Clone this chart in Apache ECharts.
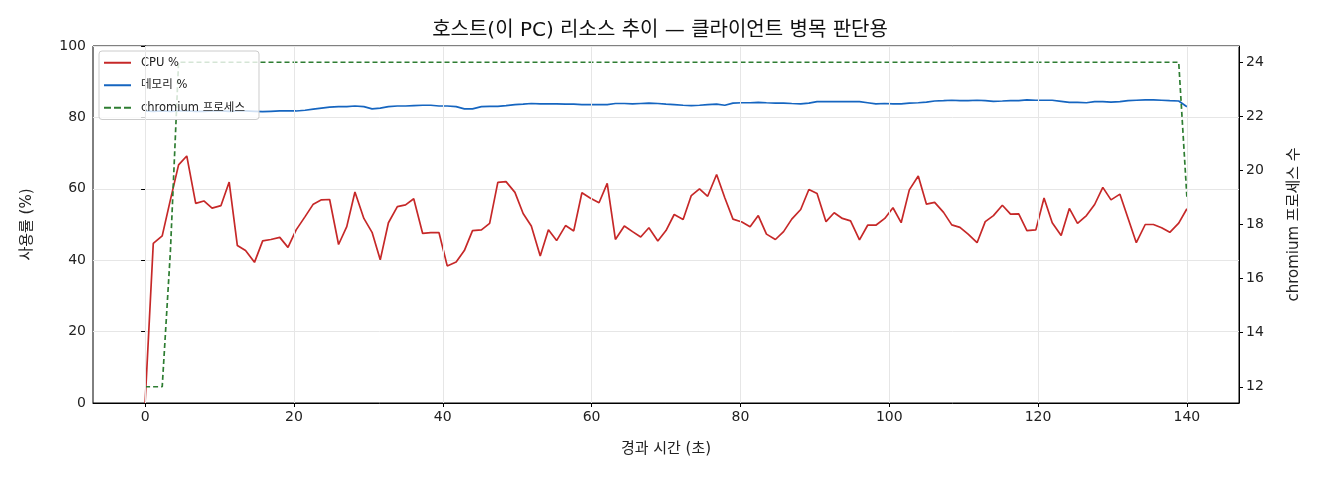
<!DOCTYPE html>
<html>
<head>
<meta charset="utf-8">
<script src="https://cdn.jsdelivr.net/npm/echarts@6/dist/echarts.min.js"></script>
<style>
  html, body { margin: 0; padding: 0; background: #fff; }
  #chart { width: 1320px; height: 480px; }
</style>
</head>
<body>
<div id="chart"></div>
<script>
// 경과 시간 (초)
const elapsed = [
  0.0, 1.1, 2.3, 3.4, 4.5, 5.6, 6.8, 7.9, 9.0, 10.2,
  11.3, 12.4, 13.5, 14.7, 15.8, 16.9, 18.1, 19.2, 20.3, 21.5,
  22.6, 23.7, 24.8, 26.0, 27.1, 28.2, 29.4, 30.5, 31.6, 32.7,
  33.9, 35.0, 36.1, 37.3, 38.4, 39.5, 40.6, 41.8, 42.9, 44.0,
  45.2, 46.3, 47.4, 48.5, 49.7, 50.8, 51.9, 53.1, 54.2, 55.3,
  56.5, 57.6, 58.7, 59.8, 61.0, 62.1, 63.2, 64.4, 65.5, 66.6,
  67.7, 68.9, 70.0, 71.1, 72.3, 73.4, 74.5, 75.6, 76.8, 77.9,
  79.0, 80.2, 81.3, 82.4, 83.5, 84.7, 85.8, 86.9, 88.1, 89.2,
  90.3, 91.5, 92.6, 93.7, 94.8, 96.0, 97.1, 98.2, 99.4, 100.5,
  101.6, 102.7, 103.9, 105.0, 106.1, 107.3, 108.4, 109.5, 110.6, 111.8,
  112.9, 114.0, 115.2, 116.3, 117.4, 118.5, 119.7, 120.8, 121.9, 123.1,
  124.2, 125.3, 126.5, 127.6, 128.7, 129.8, 131.0, 132.1, 133.2, 134.4,
  135.5, 136.6, 137.7, 138.9, 140.0
];

const cpuPct = [
  0, 44.7, 46.8, 56.9, 66.7, 69.2, 55.9, 56.6, 54.6, 55.3,
  61.9, 44.1, 42.7, 39.4, 45.4, 45.8, 46.4, 43.6, 48.5, 52.2,
  55.7, 56.9, 57.0, 44.4, 49.4, 59.1, 51.7, 47.8, 40.1, 50.5,
  55.0, 55.5, 57.2, 47.5, 47.7, 47.7, 38.4, 39.5, 42.7, 48.3,
  48.5, 50.3, 61.8, 62.0, 59.0, 53.1, 49.6, 41.2, 48.5, 45.5,
  49.7, 48.2, 58.9, 57.4, 56.1, 61.5, 45.8, 49.6, 48.0, 46.5,
  49.1, 45.4, 48.3, 52.8, 51.4, 58.1, 60.0, 57.9, 64.0, 57.5,
  51.5, 50.7, 49.4, 52.5, 47.3, 45.8, 48.0, 51.5, 54.2, 59.8,
  58.7, 50.8, 53.3, 51.7, 51.0, 45.7, 49.8, 49.8, 51.7, 54.7,
  50.5, 59.7, 63.6, 55.7, 56.2, 53.4, 49.9, 49.2, 47.3, 44.9,
  50.8, 52.5, 55.4, 52.9, 53.0, 48.3, 48.5, 57.4, 50.5, 46.9,
  54.5, 50.3, 52.5, 55.6, 60.4, 56.9, 58.5, 51.7, 44.9, 50.0,
  50.0, 49.1, 47.8, 50.4, 54.4
];

const memPct = [
  81.8, 81.7, 81.8, 81.7, 81.8, 81.8, 81.7, 81.7, 81.8, 81.8,
  81.7, 81.8, 81.8, 81.7, 81.6, 81.7, 81.8, 81.8, 81.8, 82.0,
  82.3, 82.6, 82.9, 83.0, 83.0, 83.2, 83.0, 82.4, 82.6, 83.0,
  83.2, 83.2, 83.3, 83.4, 83.4, 83.2, 83.2, 83.0, 82.4, 82.4,
  83.0, 83.1, 83.1, 83.3, 83.6, 83.7, 83.9, 83.8, 83.8, 83.8,
  83.7, 83.7, 83.6, 83.6, 83.6, 83.6, 83.9, 83.9, 83.8, 83.9,
  84.0, 83.9, 83.7, 83.6, 83.4, 83.3, 83.4, 83.6, 83.7, 83.4,
  84.0, 84.1, 84.1, 84.2, 84.1, 84.0, 84.0, 83.9, 83.8, 84.0,
  84.4, 84.4, 84.4, 84.4, 84.4, 84.4, 84.1, 83.8, 83.9, 83.8,
  83.8, 84.0, 84.1, 84.3, 84.6, 84.7, 84.8, 84.7, 84.7, 84.8,
  84.7, 84.5, 84.6, 84.7, 84.7, 84.9, 84.8, 84.8, 84.8, 84.5,
  84.2, 84.2, 84.1, 84.4, 84.4, 84.3, 84.4, 84.7, 84.8, 84.9,
  84.9, 84.8, 84.7, 84.6, 83.0
];

const chromiumProcs = [
  12, 12, 12, 17, 24, 24, 24, 24, 24, 24,
  24, 24, 24, 24, 24, 24, 24, 24, 24, 24,
  24, 24, 24, 24, 24, 24, 24, 24, 24, 24,
  24, 24, 24, 24, 24, 24, 24, 24, 24, 24,
  24, 24, 24, 24, 24, 24, 24, 24, 24, 24,
  24, 24, 24, 24, 24, 24, 24, 24, 24, 24,
  24, 24, 24, 24, 24, 24, 24, 24, 24, 24,
  24, 24, 24, 24, 24, 24, 24, 24, 24, 24,
  24, 24, 24, 24, 24, 24, 24, 24, 24, 24,
  24, 24, 24, 24, 24, 24, 24, 24, 24, 24,
  24, 24, 24, 24, 24, 24, 24, 24, 24, 24,
  24, 24, 24, 24, 24, 24, 24, 24, 24, 24,
  24, 24, 24, 24, 19
];

const xTicks = [0, 20, 40, 60, 80, 100, 120, 140];
const procTicks = [12, 14, 16, 18, 20, 22, 24];

const FONT = '"DejaVu Sans", "Noto Sans CJK KR", sans-serif';
const TICK_TEXT = { color: '#222', fontSize: 14, fontFamily: FONT };
const NAME_TEXT = { color: '#222', fontSize: 15, fontFamily: FONT };

// 범례 아이콘 (선 / 점선)
const ICON_SOLID = 'path://M0,0h27v2h-27z';
const ICON_DASH = 'path://M0,0h7v2h-7zM10,0h7v2h-7zM20,0h7v2h-7z';

function pairs(ys) {
  return ys.map((v, i) => [elapsed[i], v]);
}

const chart = echarts.init(document.getElementById('chart'));

const option = {
  animation: false,
  backgroundColor: '#fff',
  textStyle: { fontFamily: FONT },
  title: {
    text: '호스트(이 PC) 리소스 추이 — 클라이언트 병목 판단용',
    left: 'center',
    top: 16,
    textStyle: { fontSize: 20, fontWeight: 'normal', color: '#111', fontFamily: FONT }
  },
  legend: {
    orient: 'vertical',
    left: 99,
    top: 51,
    itemWidth: 27,
    itemHeight: 12,
    itemGap: 11,
    padding: [6, 14, 6, 5],
    backgroundColor: 'rgba(255,255,255,0.8)',
    borderColor: '#cccccc',
    borderWidth: 1,
    borderRadius: 3,
    textStyle: { fontSize: 11.5, color: '#222', fontFamily: FONT, padding: [0, 0, 0, 5] },
    data: [
      { name: 'CPU %', icon: ICON_SOLID },
      { name: '메모리 %', icon: ICON_SOLID },
      { name: 'chromium 프로세스', icon: ICON_DASH }
    ]
  },
  grid: {
    left: 93,
    right: 81,
    top: 46,
    bottom: 77,
    show: true,
    borderColor: '#000',
    borderWidth: 1,
    backgroundColor: 'transparent'
  },
  xAxis: {
    type: 'value',
    min: -7,
    max: 147,
    name: '경과 시간 (초)',
    nameLocation: 'middle',
    nameGap: 39,
    nameTextStyle: NAME_TEXT,
    axisLine: { show: true, onZero: false, lineStyle: { color: '#000', width: 1 } },
    axisTick: { show: true, length: 4, customValues: xTicks, lineStyle: { color: '#000' } },
    axisLabel: { customValues: xTicks, margin: 7, ...TICK_TEXT },
    splitLine: { show: false }
  },
  yAxis: [
    {
      type: 'value',
      min: 0,
      max: 100,
      interval: 20,
      name: '사용률 (%)',
      nameLocation: 'middle',
      nameGap: 58,
      nameTextStyle: NAME_TEXT,
      axisLine: { show: true, lineStyle: { color: '#000', width: 1 } },
      axisTick: { show: true, length: 4, lineStyle: { color: '#000' } },
      axisLabel: { margin: 7, ...TICK_TEXT },
      splitLine: { show: true, lineStyle: { color: '#e6e6e6', width: 1 } }
    },
    {
      type: 'value',
      min: 11.4,
      max: 24.6,
      position: 'right',
      name: 'chromium 프로세스 수',
      nameLocation: 'middle',
      nameGap: 48,
      nameRotate: 90,
      nameTextStyle: NAME_TEXT,
      axisLine: { show: true, lineStyle: { color: '#000', width: 1 } },
      axisTick: { show: true, length: 4, customValues: procTicks, lineStyle: { color: '#000' } },
      axisLabel: { customValues: procTicks, margin: 7, ...TICK_TEXT },
      splitLine: { show: false }
    }
  ],
  series: [
    {
      name: 'CPU %',
      type: 'line',
      yAxisIndex: 0,
      data: pairs(cpuPct),
      symbol: 'none',
      lineStyle: { color: '#c62828', width: 1.7 },
      itemStyle: { color: '#c62828' },
      z: 3,
      // 세로 격자선 (x 눈금 위치)
      markLine: {
        silent: true,
        symbol: 'none',
        label: { show: false },
        lineStyle: { color: '#e6e6e6', width: 1, type: 'solid' },
        data: xTicks.map(v => ({ xAxis: v }))
      }
    },
    {
      name: '메모리 %',
      type: 'line',
      yAxisIndex: 0,
      data: pairs(memPct),
      symbol: 'none',
      lineStyle: { color: '#1565c0', width: 1.7 },
      itemStyle: { color: '#1565c0' },
      z: 3
    },
    {
      name: 'chromium 프로세스',
      type: 'line',
      yAxisIndex: 1,
      data: pairs(chromiumProcs),
      symbol: 'none',
      lineStyle: { color: '#2e7d32', width: 1.7, type: [5, 3] },
      itemStyle: { color: '#2e7d32' },
      z: 3
    }
  ]
};

chart.setOption(option);
</script>
</body>
</html>
